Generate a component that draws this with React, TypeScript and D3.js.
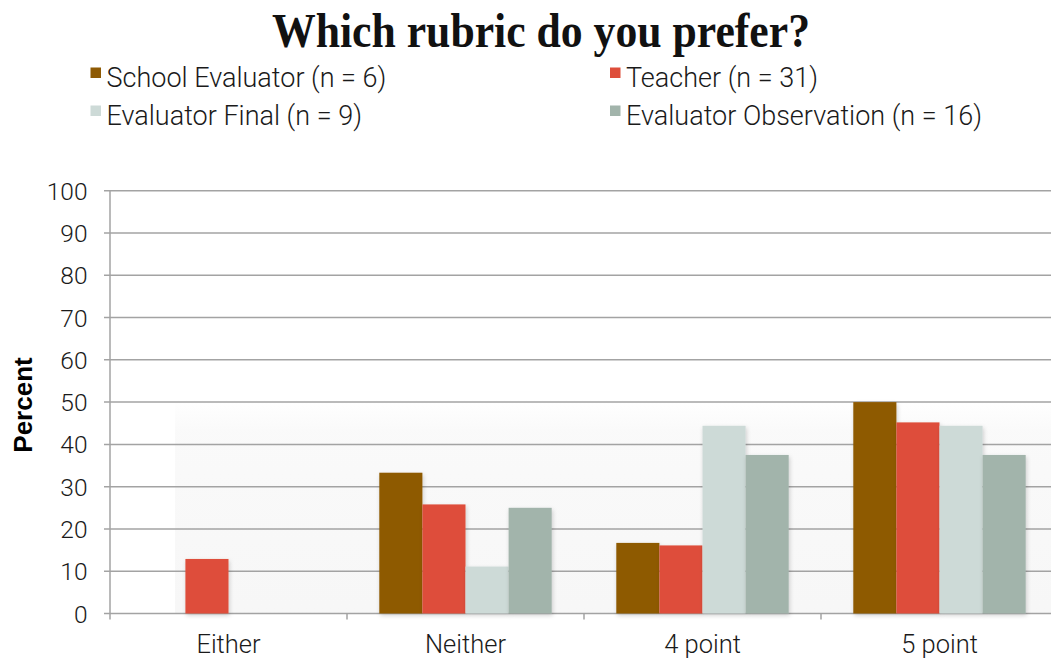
import React from "react";
import * as d3 from "d3";

const categories = ["Either", "Neither", "4 point", "5 point"];
const seriesNames = [
  "School Evaluator (n = 6)",
  "Teacher (n = 31)",
  "Evaluator Final (n = 9)",
  "Evaluator Observation (n = 16)",
];
const seriesColors = ["#8E5A04", "#DE4E3B", "#CDDAD7", "#A2B4AB"];
const schoolEvaluator = [0, 33.3, 16.7, 50.0];
const teacher = [12.9, 25.8, 16.1, 45.2];
const evaluatorFinal = [0, 11.1, 44.4, 44.4];
const evaluatorObservation = [0, 25.0, 37.5, 37.5];
const yTicks = [0, 10, 20, 30, 40, 50, 60, 70, 80, 90, 100];

const seriesValues = [schoolEvaluator, teacher, evaluatorFinal, evaluatorObservation];

export default function App() {
  const W = 1051;
  const H = 660;
  const left = 110;
  const bandW = 237;
  const x0 = d3
    .scaleBand<string>()
    .domain(categories)
    .range([left, left + bandW * categories.length])
    .padding(0);
  const groupW = 172.4;
  const x1 = d3
    .scaleBand<string>()
    .domain(seriesNames)
    .range([(x0.bandwidth() - groupW) / 2, (x0.bandwidth() + groupW) / 2])
    .padding(0);
  const y = d3.scaleLinear().domain([0, 100]).range([613.5, 190.7]);

  const font = "Roboto, 'Helvetica Neue', 'Liberation Sans', Arial, sans-serif";
  const legendPos = [
    { x: 90.5, y: 67.5 },
    { x: 610, y: 67.5 },
    { x: 90.5, y: 105.5 },
    { x: 610, y: 105.5 },
  ];

  return (
    <svg
      width={W}
      height={H}
      style={{ position: "absolute", left: 0, top: 0, background: "#fff" }}
      fontFamily={font}
    >
      <defs>
        <linearGradient id="bgfade" x1="0" y1="0" x2="0" y2="1">
          <stop offset="0" stopColor="#f6f6f6" stopOpacity={0} />
          <stop offset="0.15" stopColor="#f6f6f6" stopOpacity={0.6} />
          <stop offset="1" stopColor="#f6f6f6" stopOpacity={0.9} />
        </linearGradient>
        <filter id="shadow" x="-20%" y="-10%" width="140%" height="130%">
          <feDropShadow dx="1" dy="2" stdDeviation="2" floodColor="#000" floodOpacity="0.18" />
        </filter>
      </defs>
      <text
        x={541}
        y={47}
        textAnchor="middle"
        fontFamily="'Liberation Serif', 'DejaVu Serif', serif"
        fontWeight="bold"
        fontSize={49}
        textLength={538}
        lengthAdjust="spacingAndGlyphs"
        fill="#111"
      >
        Which rubric do you prefer?
      </text>
      {seriesNames.map((s, i) => (
        <g key={s}>
          <rect x={legendPos[i].x} y={legendPos[i].y} width={10.5} height={10.5} fill={seriesColors[i]} />
          <text x={legendPos[i].x + 16} y={legendPos[i].y + 19.5} fontSize={27} fontWeight={300} fill="#1a1a1a">
            {s}
          </text>
        </g>
      ))}
      <rect x={175} y={400} width={W - 175} height={613.5 - 400} fill="url(#bgfade)" />
      {yTicks.map((t) => (
        <g key={t}>
          <line x1={left - 6} x2={W} y1={y(t)} y2={y(t)} stroke="#a3a3a3" strokeWidth={1.5} />
          <text x={87.5} y={y(t) + 9} textAnchor="end" fontSize={24.5} fontWeight={300} fill="#1a1a1a">
            {t}
          </text>
        </g>
      ))}
      <line x1={left} x2={left} y1={y(100)} y2={y(0) + 6} stroke="#a3a3a3" strokeWidth={1.5} />
      {categories.map((c) => (
        <line
          key={"tk" + c}
          x1={(x0(c) as number) + bandW}
          x2={(x0(c) as number) + bandW}
          y1={y(0)}
          y2={y(0) + 6}
          stroke="#a3a3a3"
          strokeWidth={1.5}
        />
      ))}
      {categories.map((c, ci) => (
        <g key={c} transform={`translate(${x0(c)},0)`}>
          {seriesNames.map((s, si) => {
            const v = seriesValues[si][ci];
            if (v <= 0) return null;
            return (
              <rect
                key={s}
                x={x1(s)}
                y={y(v)}
                width={x1.bandwidth()}
                height={y(0) - y(v)}
                fill={seriesColors[si]}
                filter="url(#shadow)"
              />
            );
          })}
          <text
            x={x0.bandwidth() / 2}
            y={653}
            textAnchor="middle"
            fontSize={25.5}
            fontWeight={300}
            fill="#1a1a1a"
          >
            {c}
          </text>
        </g>
      ))}
      <text
        transform="translate(31.5,405) rotate(-90)"
        textAnchor="middle"
        fontFamily="'Liberation Sans', Arial, sans-serif"
        fontSize={26}
        fontWeight="bold"
        fill="#000"
      >
        Percent
      </text>
    </svg>
  );
}
